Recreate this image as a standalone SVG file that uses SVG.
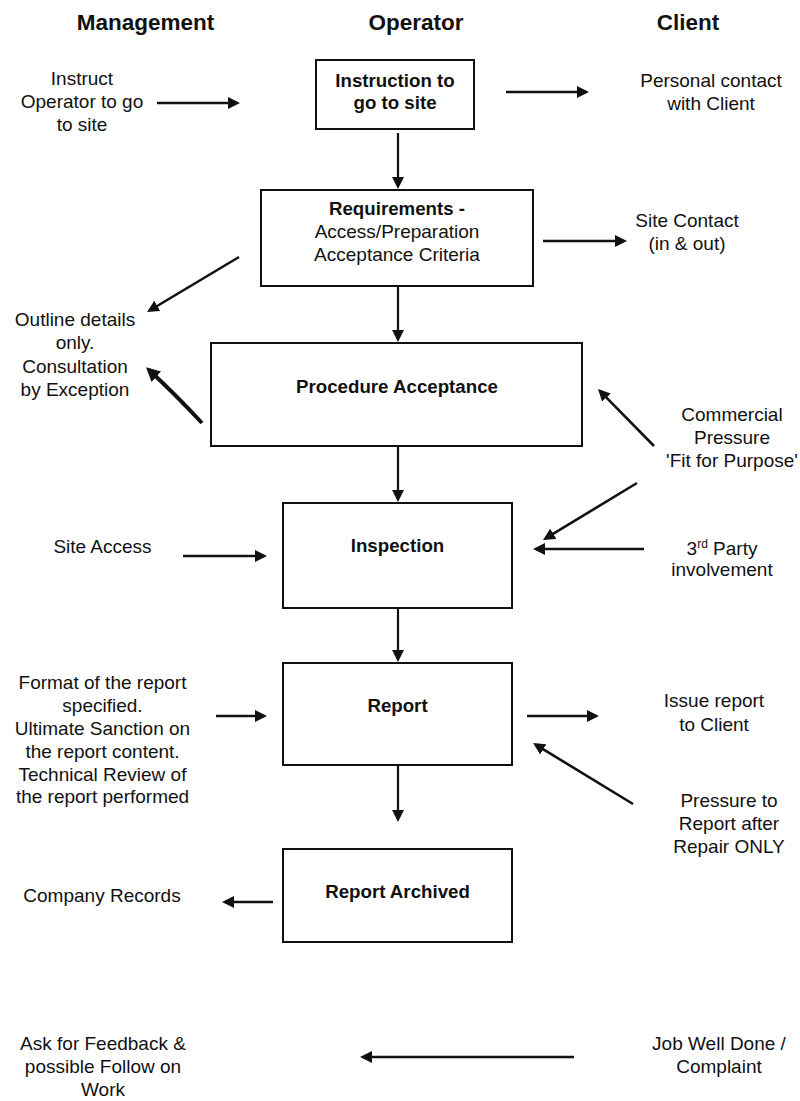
<svg xmlns="http://www.w3.org/2000/svg" width="800" height="1101" viewBox="0 0 800 1101">
<style>
text{font-family:"Liberation Sans",Arial,sans-serif;fill:#111;text-anchor:middle}
.h{font-size:22.5px;font-weight:bold}
.t{font-size:19px}
.b{font-size:18.7px;font-weight:bold}
.box{fill:#fff;stroke:#111;stroke-width:2}
.c{stroke:#111;stroke-width:2.6;fill:none}
.v{stroke:#111;stroke-width:2.2;fill:none}
</style>
<defs>
<marker id="ah" viewBox="0 0 12 12" refX="9" refY="6" markerWidth="12" markerHeight="12" markerUnits="userSpaceOnUse" orient="auto">
<path d="M0,0 L12,6 L0,12 z" fill="#111"/>
</marker>
<marker id="ahb" viewBox="0 0 14 14" refX="10" refY="7" markerWidth="14" markerHeight="14" markerUnits="userSpaceOnUse" orient="auto">
<path d="M0,0 L14,7 L0,14 z" fill="#111"/>
</marker>
</defs>
<rect width="800" height="1101" fill="#fff"/>
<g id="headers">
<text class="h" x="145.5" y="30">Management</text>
<text class="h" x="416" y="30">Operator</text>
<text class="h" x="688" y="30">Client</text>
</g>
<g id="instruct">
<text class="t" x="82" y="85">Instruct</text>
<text class="t" x="82" y="108">Operator to go</text>
<text class="t" x="82" y="131">to site</text>
</g>
<g id="instruction-box">
<rect class="box" x="316" y="60" width="158" height="69"/>
<text class="b" x="395" y="87">Instruction to</text>
<text class="b" x="395" y="109">go to site</text>
</g>
<g id="personal-contact">
<text class="t" x="711" y="87">Personal contact</text>
<text class="t" x="711" y="110">with Client</text>
</g>
<g id="requirements-box">
<rect class="box" x="261" y="190" width="272" height="96"/>
<text class="b" x="397" y="215">Requirements -</text>
<text class="t" x="397" y="238">Access/Preparation</text>
<text class="t" x="397" y="261">Acceptance Criteria</text>
</g>
<g id="site-contact">
<text class="t" x="687" y="227">Site Contact</text>
<text class="t" x="687" y="250">(in &amp; out)</text>
</g>
<g id="outline-details">
<text class="t" x="75" y="326">Outline details</text>
<text class="t" x="75" y="349">only.</text>
<text class="t" x="75" y="373">Consultation</text>
<text class="t" x="75" y="396">by Exception</text>
</g>
<g id="procedure-box">
<rect class="box" x="211" y="343" width="371" height="103"/>
<text class="b" x="397" y="393">Procedure Acceptance</text>
</g>
<g id="commercial-pressure">
<text class="t" x="732" y="421">Commercial</text>
<text class="t" x="732" y="444">Pressure</text>
<text class="t" x="732" y="467">'Fit for Purpose'</text>
</g>
<g id="site-access">
<text class="t" x="102.5" y="553">Site Access</text>
</g>
<g id="inspection-box">
<rect class="box" x="283" y="503" width="229" height="105"/>
<text class="b" x="397.5" y="552">Inspection</text>
</g>
<g id="third-party">
<text class="t" x="722" y="555">3<tspan font-size="12" dy="-7">rd</tspan><tspan dy="7"> Party</tspan></text>
<text class="t" x="722" y="576">involvement</text>
</g>
<g id="format-report">
<text class="t" x="102.5" y="689">Format of the report</text>
<text class="t" x="102.5" y="712">specified.</text>
<text class="t" x="102.5" y="735">Ultimate Sanction on</text>
<text class="t" x="102.5" y="758">the report content.</text>
<text class="t" x="102.5" y="781">Technical Review of</text>
<text class="t" x="102.5" y="803">the report performed</text>
</g>
<g id="report-box">
<rect class="box" x="283" y="663" width="229" height="102"/>
<text class="b" x="397.5" y="712">Report</text>
</g>
<g id="issue-report">
<text class="t" x="714" y="707">Issue report</text>
<text class="t" x="714" y="731">to Client</text>
</g>
<g id="pressure-repair">
<text class="t" x="729" y="807">Pressure to</text>
<text class="t" x="729" y="830">Report after</text>
<text class="t" x="729" y="853">Repair ONLY</text>
</g>
<g id="archived-box">
<rect class="box" x="283" y="849" width="229" height="93"/>
<text class="b" x="397.5" y="898">Report Archived</text>
</g>
<g id="company-records">
<text class="t" x="102" y="902">Company Records</text>
</g>
<g id="feedback">
<text class="t" x="103" y="1050">Ask for Feedback &amp;</text>
<text class="t" x="103" y="1073">possible Follow on</text>
<text class="t" x="103" y="1096">Work</text>
</g>
<g id="job-done">
<text class="t" x="719" y="1050">Job Well Done /</text>
<text class="t" x="719" y="1073">Complaint</text>
</g>
<g id="connectors">
<line class="c" x1="157" y1="103" x2="237" y2="103" marker-end="url(#ah)"/>
<line class="c" x1="506" y1="92" x2="586" y2="92" marker-end="url(#ah)"/>
<line class="v" x1="398" y1="133" x2="398" y2="186" marker-end="url(#ah)"/>
<line class="c" x1="543" y1="241" x2="624" y2="241" marker-end="url(#ah)"/>
<line class="c" x1="239" y1="257" x2="149.6" y2="310.5" marker-end="url(#ah)"/>
<line class="v" x1="398" y1="287" x2="398" y2="339" marker-end="url(#ah)"/>
<path d="M202,423 Q175,394 149,370" stroke="#111" stroke-width="4" fill="none" marker-end="url(#ahb)"/>
<line class="c" x1="654" y1="446" x2="600.1" y2="391.2" marker-end="url(#ah)"/>
<line class="c" x1="637" y1="483" x2="545.6" y2="538.4" marker-end="url(#ah)"/>
<line class="v" x1="398" y1="446" x2="398" y2="499" marker-end="url(#ah)"/>
<line class="c" x1="183" y1="556" x2="264" y2="556" marker-end="url(#ah)"/>
<line class="c" x1="644" y1="549" x2="536" y2="549" marker-end="url(#ah)"/>
<line class="v" x1="398" y1="608" x2="398" y2="659" marker-end="url(#ah)"/>
<line class="c" x1="216" y1="716" x2="264" y2="716" marker-end="url(#ah)"/>
<line class="c" x1="527" y1="716" x2="596" y2="716" marker-end="url(#ah)"/>
<line class="c" x1="633" y1="804" x2="535.6" y2="744.6" marker-end="url(#ah)"/>
<line class="v" x1="398" y1="765" x2="398" y2="819" marker-end="url(#ah)"/>
<line class="c" x1="273" y1="902" x2="225" y2="902" marker-end="url(#ah)"/>
<line class="c" x1="574" y1="1057" x2="363" y2="1057" marker-end="url(#ah)"/>
</g>
</svg>
